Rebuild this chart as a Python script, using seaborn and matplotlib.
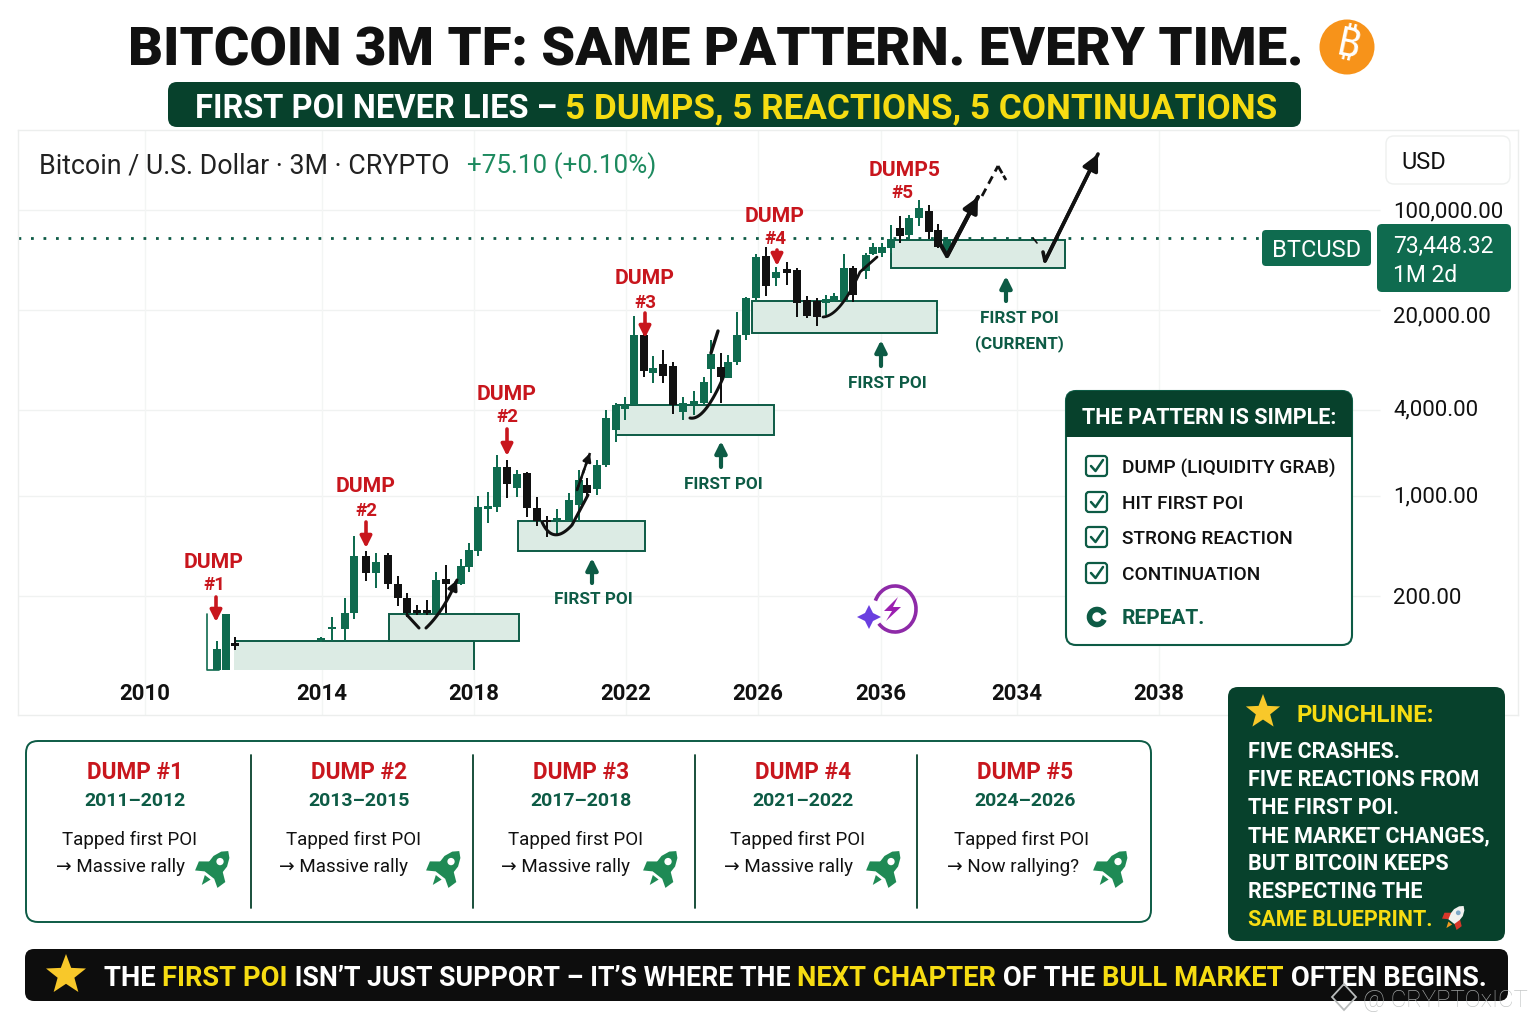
import numpy as np
import pandas as pd
import matplotlib
matplotlib.use("Agg")
import matplotlib.pyplot as plt
import seaborn as sns
from matplotlib import font_manager, ft2font
from matplotlib.transforms import ScaledTranslation
from matplotlib.patches import FancyBboxPatch, Rectangle, Circle, Polygon, Arc, FancyArrowPatch

GREEN = "#0f6b4f"
DARK = "#07412c"
LABEL = "#0d5b45"
RED = "#c8161d"
YELLOW = "#f6dc12"
POI_FILL = "#dcebe4"

# candle position on the time axis and prices in USD
candle_pos = [217, 226, 235, 321, 332, 345, 354, 366, 376, 388, 398, 407, 417, 427, 436, 446, 461,
              469, 478, 488, 497, 507, 517, 527, 537, 547, 557, 569, 579, 587, 597, 606, 616, 625,
              634, 644, 653, 663, 673, 683, 694, 704, 711, 721, 728, 737, 746, 756, 766, 776, 787,
              797, 807, 817, 826, 834, 844, 853, 866, 873, 882, 891, 900, 909, 919, 929, 938, 947]
open_usd = [61, 61, 94, 99, 118, 118, 152, 381, 291, 387, 243, 194, 160, 160, 152, 264, 243,
            320, 413, 813, 839, 1598, 1143, 1449, 826, 680, 680, 669, 867, 1199, 1116, 1650, 2900, 4060,
            4330, 13370, 7240, 8370, 8100, 3870, 4330, 4470, 7720, 7980, 6680, 8640, 13370, 24260, 47600, 33500, 38700,
            38100, 23500, 23100, 22400, 23100, 23100, 39300, 37500, 49200, 50000, 54300, 74800, 66800, 87900, 98400, 72500, 50000]
high_usd = [96, 150, 104, 103, 143, 194, 526, 413, 400, 400, 277, 211, 173, 188, 295, 330, 363,
            471, 998, 1065, 1936, 1790, 1520, 1471, 982, 726, 813, 1048, 1520, 1336, 1790, 4000, 4470, 4920,
            18140, 13600, 9520, 10500, 8640, 4920, 5420, 6790, 12300, 10000, 9680, 19360, 24650, 49200, 55200, 39900, 43300,
            39300, 25000, 24260, 25450, 26300, 49200, 40500, 50000, 58800, 58800, 78500, 90700, 92200, 117500, 108400, 79700, 64700]
low_usd = [61, 61, 84, 95, 96, 96, 138, 255, 228, 224, 171, 143, 147, 147, 152, 152, 239,
           295, 381, 648, 774, 967, 982, 710, 617, 518, 534, 669, 669, 982, 1015, 1598, 2390, 3400,
           4330, 6790, 6170, 6170, 3750, 3400, 3690, 4330, 5250, 4470, 6680, 8250, 12300, 22750, 25000, 29390, 29900,
           17860, 17600, 15420, 18400, 22750, 23100, 22750, 32900, 48400, 46900, 50000, 58800, 62640, 77200, 62640, 54300, 46900]
close_usd = [85.5, 150, 90, 101, 121, 152, 381, 291, 347, 243, 194, 152, 152, 152, 259, 243, 325,
             420, 839, 853, 1598, 1218, 1424, 826, 669, 658, 703, 940, 1300, 1048, 1650, 3516, 4330, 4330,
             13370, 7480, 7850, 6890, 4330, 4470, 4610, 6260, 9840, 6790, 8640, 13370, 24260, 46900, 29390, 36900, 36300,
             22400, 18140, 17860, 23900, 25000, 39300, 25450, 48400, 55200, 55200, 62640, 65800, 87900, 103300, 70200, 55200, 60700]

# first POI zones
poi_start = [234, 389, 518, 616, 752, 891]
poi_end = [474, 519, 645, 774, 937, 1065]
poi_top = [96, 150, 669, 4330, 23100, 61700]
poi_bottom = [61, 96, 413, 2674, 13800, 39300]

last_price = 63700
price_ticks = [100000, 20000, 4000, 1000, 200]
price_labels = ["100,000.00", "20,000.00", "4,000.00", "1,000.00", "200.00"]
year_pos = [145, 322, 474, 626, 758, 881, 1017, 1159]
year_labels = ["2010", "2014", "2018", "2022", "2026", "2036", "2034", "2038"]

dump_titles = ["DUMP", "DUMP", "DUMP", "DUMP", "DUMP", "DUMP5"]
dump_tags = ["#1", "#2", "#2", "#3", "#4", "#5"]
dump_years = ["2011–2012", "2013–2015", "2017–2018", "2021–2022", "2024–2026"]
dump_results = ["Massive rally", "Massive rally", "Massive rally", "Massive rally", "Now rallying?"]
pattern_items = ["DUMP (LIQUIDITY GRAB)", "HIT FIRST POI", "STRONG REACTION", "CONTINUATION"]
punch_lines = ["FIVE CRASHES.", "FIVE REACTIONS FROM", "THE FIRST POI.", "THE MARKET CHANGES,",
               "BUT BITCOIN KEEPS", "RESPECTING THE"]

sns.set_theme(style="white")
plt.rcParams["font.family"] = ["Roboto", "DejaVu Sans"]

fig = plt.figure(figsize=(15.36, 10.24), dpi=100, facecolor="white")

# chart
ax = fig.add_axes([18 / 1536, 1 - 715 / 1024, 1500 / 1536, 585 / 1024])
ax.set_yscale("log")

candles = pd.DataFrame({"pos": candle_pos, "open": open_usd, "high": high_usd, "low": low_usd, "close": close_usd})
candles["body"] = (candles["close"] - candles["open"]).abs()
candles["base"] = candles[["open", "close"]].min(axis=1)
candles["range"] = candles["high"] - candles["low"]
up = candles[candles["close"] >= candles["open"]]
down = candles[candles["close"] < candles["open"]]

for part, colour in [(up, GREEN), (down, "#111111")]:
    step = np.diff(part["pos"]).min()
    sns.barplot(data=part, x="pos", y="range", bottom=part["low"].values, native_scale=True,
                width=1.7 / step, color=colour, saturation=1, errorbar=None, linewidth=0, ax=ax)
    sns.barplot(data=part, x="pos", y="body", bottom=part["base"].values, native_scale=True,
                width=8 / step, color=colour, saturation=1, errorbar=None, linewidth=0, ax=ax)

for i in range(len(poi_start)):
    w = poi_end[i] - poi_start[i]
    h = poi_top[i] - poi_bottom[i]
    if i == 0:
        ax.add_patch(Rectangle((poi_start[i], poi_bottom[i]), w, h, fc=POI_FILL, ec="none", zorder=0.5))
        ax.hlines(poi_top[i], poi_start[i], poi_end[i], color=LABEL, lw=1.4, zorder=0.6)
        ax.vlines(poi_end[i], poi_bottom[i], poi_top[i], color=LABEL, lw=1.4, zorder=0.6)
    else:
        ax.add_patch(Rectangle((poi_start[i], poi_bottom[i]), w, h, fc=POI_FILL, ec=LABEL, lw=1.4, zorder=0.5))

ax.set_xlim(18, 1518)
ax.set_ylim(29.4, 362000)
ax.hlines(price_ticks, 18, 1380, color="#f0f2f1", lw=1, zorder=0.2)
ax.vlines(year_pos, 29.4, 362000, color="#f3f5f4", lw=1, zorder=0.2)
ax.hlines(last_price, 18, 1262, color=LABEL, lw=2, linestyles=(0, (1, 3.5)), zorder=0.7)
ax.set_xlabel("")
ax.set_ylabel("")
ax.yaxis.tick_right()
ax.set_yticks(price_ticks)
ax.set_yticklabels(price_labels)
ax.minorticks_off()
ax.tick_params(axis="y", length=0, pad=-90, labelsize=16, labelcolor="#111111")
ax.set_xticks(year_pos)
ax.set_xticklabels(year_labels, fontweight="bold")
ax.tick_params(axis="x", length=0, pad=-23, labelsize=16, labelcolor="#111111")
for lbl, dy in zip(ax.get_yticklabels(), [0, -5, 2, 2, 0]):
    lbl.set_transform(lbl.get_transform() + ScaledTranslation(0, dy / 100, fig.dpi_scale_trans))
for s in ax.spines.values():
    s.set_color("#eceeed")
    s.set_linewidth(1)

# overlay in picture pixels for the panels and call-outs
ov = fig.add_axes([0, 0, 1, 1], zorder=5)
ov.set_xlim(0, 1536)
ov.set_ylim(1024, 0)
ov.axis("off")


def txt(x, y, s, size, color="#111111", weight="normal", ha="left", **kw):
    return ov.text(x, y, s, fontsize=size, color=color, fontweight=weight, ha=ha, va="center_baseline", **kw)


def segments(x, y, parts, weight="bold"):
    r = fig.canvas.get_renderer()
    for s, colour, size in parts:
        t = txt(x, y, s, size, colour, weight, zorder=6)
        t.set_text(s.replace(" ", "\u00a0"))
        x = t.get_window_extent(r).x1


def panel(x0, y0, x1, y1, fc="white", ec="none", lw=0, r=10, z=2):
    ov.add_patch(FancyBboxPatch((x0 + r, y0 + r), x1 - x0 - 2 * r, y1 - y0 - 2 * r,
                                boxstyle=f"round,pad={r},rounding_size={r}", fc=fc, ec=ec, lw=lw, zorder=z))


def arrow(x0, y0, x1, y1, color, lw=3.2, scale=20):
    ov.add_patch(FancyArrowPatch((x0, y0), (x1, y1), arrowstyle="-|>", mutation_scale=scale, color=color,
                                 lw=lw, shrinkA=0, shrinkB=0, zorder=6))


def bend(p0, p1, p2):
    t = np.linspace(0, 1, 24)[:, None]
    pts = (1 - t) ** 2 * np.array(p0) + 2 * t * (1 - t) * np.array(p1) + t ** 2 * np.array(p2)
    return [tuple(p) for p in pts]


def curve(points, lw=2.2, ls="-", head=True, scale=20):
    xs, ys = zip(*points)
    ov.plot(xs, ys, color="#111111", lw=lw, ls=ls, solid_capstyle="round", zorder=6)
    if head:
        arrow(xs[-2], ys[-2], xs[-1], ys[-1], "#111111", lw=lw, scale=scale)


def star(cx, cy, r, color):
    a = np.deg2rad(np.arange(10) * 36 - 90)
    rad = np.where(np.arange(10) % 2 == 0, r, r * 0.42)
    ov.add_patch(Polygon(np.c_[cx + rad * np.cos(a), cy + rad * np.sin(a)], fc=color, ec="none", zorder=7))


def rocket(cx, cy, s, body, fin, flame, window="white"):
    ang = np.deg2rad(38)
    rot = np.array([[np.cos(ang), -np.sin(ang)], [np.sin(ang), np.cos(ang)]])

    def place(pts):
        return (np.array(pts) @ rot.T) * s + [cx, cy]

    ov.add_patch(Polygon(place([(-.3, -.15), (-.78, .22), (-.66, .66), (-.25, .4)]), fc=fin, ec="none", zorder=7))
    ov.add_patch(Polygon(place([(.3, -.15), (.78, .22), (.66, .66), (.25, .4)]), fc=fin, ec="none", zorder=7))
    ov.add_patch(Polygon(place([(0, -1), (.24, -.78), (.4, -.4), (.4, -.05), (.27, .42), (-.27, .42),
                                (-.4, -.05), (-.4, -.4), (-.24, -.78)]), fc=body, ec="none", zorder=7))
    ov.add_patch(Polygon(place([(-.17, .55), (.17, .55), (0, 1)]), fc=flame, ec="none", zorder=7))
    c = place([(0, -.38)])[0]
    ov.add_patch(Circle(c, .17 * s, fc=window, ec="none", zorder=8))


# the bitcoin sign needs a family that carries it
coin_family = None
for fam in ["Noto Sans", "Open Sans", "Inter", "Lato", "Liberation Sans", "Roboto", "DejaVu Sans"]:
    path = font_manager.findfont(font_manager.FontProperties(family=fam, weight="bold"))
    if 0x20BF in ft2font.FT2Font(path).get_charmap():
        coin_family = fam
        break

# title and banner
txt(716, 46, "BITCOIN 3M TF: SAME PATTERN. EVERY TIME.", 39.1, "#111111", "black", ha="center")
ov.add_patch(Circle((1347, 47), 27.5, fc="#f7931a", ec="none", zorder=3))
ov.text(1347, 47, "₿" if coin_family else "B", fontsize=29, color="white", fontweight="bold",
        family=coin_family or "Roboto", ha="center", va="center", rotation=-12, zorder=4)
panel(168, 82, 1301, 127, fc=DARK, r=9)
segments(195, 105, [("FIRST POI NEVER LIES – ", "white", 23.5),
                    ("5 DUMPS, 5 REACTIONS, 5 CONTINUATIONS", YELLOW, 25.3)])

# chart header
txt(39, 163, "Bitcoin / U.S. Dollar · 3M · CRYPTO", 19.3, "#222222")
txt(467, 163, "+75.10 (+0.10%)", 18.7, "#1d8a5f")
panel(1386, 136, 1510, 184, ec="#eef0ef", lw=1, r=8)
txt(1401, 160, "USD", 17)
panel(1262, 230, 1371, 266, fc=GREEN, r=4)
txt(1317, 248, "BTCUSD", 17, "white", ha="center")
panel(1377, 224, 1511, 292, fc=GREEN, r=5)
txt(1393, 244, "73,448.32", 16.5, "white", zorder=4)
txt(1393, 273, "1M 2d", 16.5, "white", zorder=4)

# dump call-outs
dump_label_x = [214, 366, 507, 645, 775, 905]
dump_label_y = [560, 485, 392, 277, 214, 168]
dump_arrow_x = [216, 366, 507, 645, 777]
dump_arrow_y = [(597, 622), (522, 548), (429, 456), (313, 338), (250, 266)]
for i in range(6):
    txt(dump_label_x[i], dump_label_y[i], dump_titles[i], 15.2, RED, "bold", ha="center")
    txt(dump_label_x[i] - (3 if i == 5 else 0), dump_label_y[i] + 23.5, dump_tags[i], 13.5, RED, "bold", ha="center")
for x, (a0, a1) in zip(dump_arrow_x, dump_arrow_y):
    arrow(x, a0, x, a1, RED, lw=2.6, scale=17)

# first POI call-outs
for x, y, ax0, ay0, ay1 in [(593, 598, 592, 583, 558), (723, 483, 721, 467, 441), (887, 382, 881, 366, 340)]:
    txt(x, y, "FIRST POI", 12.3, LABEL, "bold", ha="center")
    arrow(ax0, ay0, ax0, ay1, LABEL, lw=3, scale=17)
txt(1019, 317, "FIRST POI", 12.3, LABEL, "bold", ha="center")
txt(1019, 342, "(CURRENT)", 12.3, LABEL, "bold", ha="center")
arrow(1006, 301, 1006, 276, LABEL, lw=3, scale=17)

# paths
ov.plot([207, 207, 219], [614, 670, 670], color=GREEN, lw=1.2, zorder=3)
curve([(407, 615), (419, 628)], lw=2.2, head=False)
curve(bend((426, 628), (443, 612), (457, 580)), lw=2.2, scale=14)
curve(bend((542, 522), (553, 546), (572, 525)) + [(588, 495)], lw=2.2, head=False)
curve([(577, 490), (590, 453)], lw=1.8, ls=(0, (2, 1.5)), scale=12)
curve(bend((690, 418), (704, 421), (723, 378)), lw=2.2, head=False)
curve([(711, 353), (718, 331)], lw=2.4, head=False)
curve(bend((823, 317), (840, 316), (860, 272)) + [(877, 257)], lw=2, head=False)
curve([(938, 240), (947, 256), (978, 197)], lw=3, scale=22)
curve([(982, 196), (998, 166)], lw=2, ls=(0, (3, 2)), head=False)
curve([(998, 166), (1006, 180)], lw=2, ls=(0, (3, 1)), head=False)
curve([(1033, 238), (1037, 243)], lw=1.2, head=False)
curve([(1043, 252), (1045, 261), (1098, 154)], lw=2.6, scale=24)

# purple badge
ov.add_patch(Arc((895, 609), 42, 46, theta1=203, theta2=138, color="#8e2aa8", lw=2.6, zorder=6))
ov.add_patch(Polygon([(898, 597), (884, 611), (892, 611), (886, 621), (901, 607), (893, 607)], fc="#9b1fb0", ec="none", zorder=6))
ov.add_patch(Polygon([(869, 605), (873, 613), (881, 617), (873, 621), (869, 629), (865, 621), (857, 617), (865, 613)],
                     fc="#6a3fe0", ec="none", zorder=6))

# pattern box
panel(1066, 391, 1352, 645, fc="white", ec=LABEL, lw=1.5, r=10, z=4)
panel(1066, 391, 1352, 437, fc=DARK, r=10, z=5)
ov.add_patch(Rectangle((1066, 425), 286, 12, fc=DARK, ec="none", zorder=5))
txt(1209, 415, "THE PATTERN IS SIMPLE:", 15.5, "white", "bold", ha="center", zorder=6)
for y, item in zip([466, 502, 537, 573], pattern_items):
    panel(1086, y - 10, 1107, y + 10, fc="white", ec=LABEL, lw=1.6, r=3, z=5)
    ov.plot([1091, 1095.5, 1103], [y, y + 5, y - 6], color=LABEL, lw=1.8, zorder=6)
    txt(1122, y, item, 13.7, "#111111", "medium", zorder=6)
ov.add_patch(Arc((1097, 617), 15, 15, theta1=20, theta2=340, color=LABEL, lw=4, zorder=6))
txt(1122, 617, "REPEAT.", 15, LABEL, "bold", zorder=6)

# dump summary strip
panel(26, 741, 1151, 922, fc="white", ec=LABEL, lw=1.4, r=12)
for x in [251, 473, 695, 917]:
    ov.plot([x, x], [755, 908], color=DARK, lw=1.3, zorder=3)
col_x = [135, 359, 581, 803, 1025]
col_tap = [130, 354, 576, 798, 1022]
col_res = [56, 279, 501, 724, 947]
rocket_x = [215, 446, 663, 886, 1113]
for i in range(5):
    txt(col_x[i], 770, "DUMP #%d" % (i + 1), 16.3, RED, "bold", ha="center", zorder=3)
    txt(col_x[i], 799.5, dump_years[i], 14, LABEL, "bold", ha="center", zorder=3)
    txt(col_tap[i], 837.5, "Tapped first POI", 13.5, ha="center", zorder=3)
    txt(col_res[i], 865.5, "→ " + dump_results[i], 13.5, zorder=3)
    rocket(rocket_x[i], 868, 21.5, "#1f8a55", "#1f8a55", "#1f8a55")

# punchline
panel(1228, 687, 1505, 941, fc=DARK, r=10, z=4)
star(1263, 712, 18, "#f8c82a")
txt(1297, 712.5, "PUNCHLINE:", 17.2, YELLOW, "bold", zorder=6)
for y, line in zip([750, 778, 806, 834, 862, 890], punch_lines):
    txt(1248, y, line, 15.5, "white", "bold", zorder=6)
txt(1248, 918, "SAME BLUEPRINT.", 15.5, YELLOW, "bold", zorder=6)
rocket(1455, 917, 14, "#f1f1ef", "#d8372a", "#f19a1f", window="#7fa8c9")

# bottom bar
panel(25, 949, 1508, 1001, fc="#0d0d0d", r=9, z=4)
star(66, 975, 21, "#f8c82a")
segments(104, 976, [("THE ", "white", 19.7), ("FIRST POI", YELLOW, 19.7),
                    (" ISN’T JUST SUPPORT – IT’S WHERE THE ", "white", 19.3),
                    ("NEXT CHAPTER", YELLOW, 19.7), (" OF THE ", "white", 19.7), ("BULL MARKET", YELLOW, 19.7),
                    (" OFTEN BEGINS.", "white", 19.7)])

# watermark
ov.add_patch(Polygon([(1344, 984), (1356, 997), (1344, 1010), (1332, 997)], fc="none", ec="#b9bcbc", lw=1.3, zorder=7))
ov.text(1363, 1000, "@ CRYPTOxICT", fontsize=17.2, color="#b9bcbc", ha="left", va="center", alpha=0.85, zorder=7, fontweight="light")

fig.savefig("out.png", dpi=100, facecolor="white")
